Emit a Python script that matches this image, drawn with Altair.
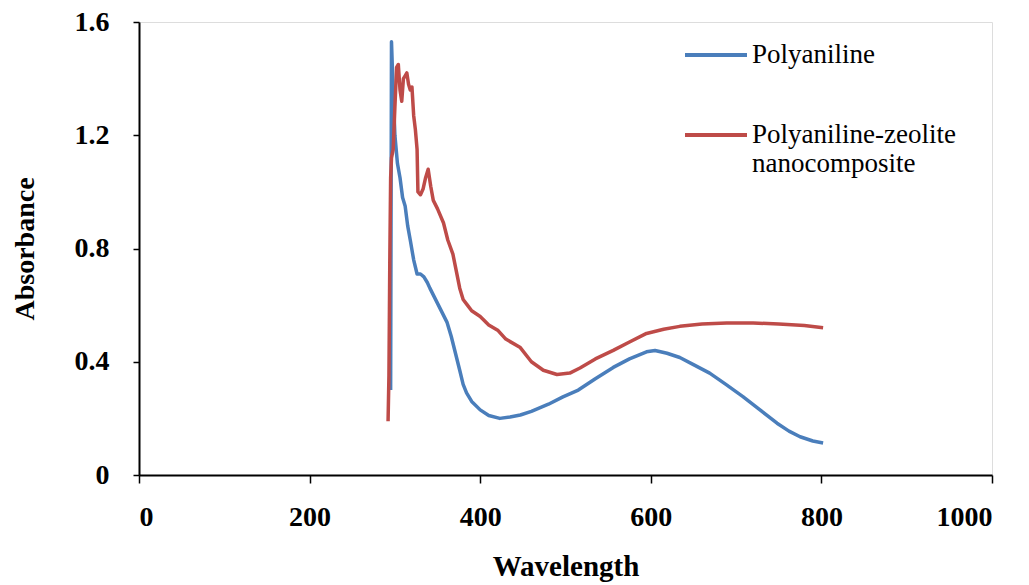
import altair as alt
import pandas as pd

series_names = ["Polyaniline", "Polyaniline-zeolite nanocomposite"]
series_colors = ["#4a7ebb", "#be4b48"]

pani_wl = [295, 296, 298, 300, 303, 306, 309, 312, 315, 318, 322, 326, 330, 334, 338, 341,
           346, 351, 356, 361, 366, 371, 376, 380, 384, 390, 400, 410, 423, 435, 447, 460,
           480, 497, 515, 535, 556, 575, 595, 605, 619, 634, 650, 669, 688, 708, 728, 748,
           762, 775, 790, 802]
pani_abs = [0.30, 1.53, 1.35, 1.20, 1.10, 1.05, 0.98, 0.95, 0.88, 0.83, 0.76, 0.71, 0.71, 0.70, 0.68, 0.66,
            0.63, 0.60, 0.57, 0.54, 0.49, 0.43, 0.37, 0.32, 0.29, 0.26, 0.23, 0.21, 0.20, 0.205, 0.212, 0.225,
            0.25, 0.276, 0.30, 0.34, 0.38, 0.41, 0.435, 0.44, 0.43, 0.415, 0.39, 0.36, 0.32, 0.277, 0.23, 0.183,
            0.155, 0.135, 0.12, 0.113]

comp_wl = [292, 293, 294, 295, 296, 298, 300, 302, 304, 306, 308, 310, 312, 314, 316, 318,
           320, 322, 324, 326, 327, 330, 333, 336, 339, 342, 345, 350, 357, 362, 368, 372,
           376, 380, 385, 390, 400, 410, 421, 430, 447, 460, 474, 490, 505, 517, 535, 556,
           575, 595, 615, 634, 660, 689, 720, 750, 780, 802]
comp_abs = [0.19, 0.35, 0.75, 1.05, 1.12, 1.15, 1.30, 1.44, 1.45, 1.36, 1.32, 1.40, 1.41, 1.42, 1.38, 1.36,
            1.37, 1.27, 1.22, 1.15, 1.00, 0.99, 1.01, 1.05, 1.08, 1.02, 0.97, 0.94, 0.89, 0.83, 0.78, 0.72,
            0.66, 0.62, 0.60, 0.58, 0.56, 0.53, 0.51, 0.48, 0.45, 0.40, 0.37, 0.355, 0.36, 0.378, 0.41, 0.44,
            0.47, 0.50, 0.515, 0.525, 0.533, 0.537, 0.537, 0.533, 0.528, 0.52]

x_ticks = [0, 200, 400, 600, 800, 1000]
y_ticks = [0, 0.4, 0.8, 1.2, 1.6]

rows = []
for i, (w, a) in enumerate(zip(pani_wl, pani_abs)):
    rows.append({"Wavelength": w, "Absorbance": a, "Series": series_names[0], "idx": i})
for i, (w, a) in enumerate(zip(comp_wl, comp_abs)):
    rows.append({"Wavelength": w, "Absorbance": a, "Series": series_names[1], "idx": i})
df = pd.DataFrame(rows)

FONT = "Liberation Serif"

chart = alt.Chart(df).mark_line(strokeWidth=3.5, strokeJoin="round").encode(
    x=alt.X("Wavelength:Q",
            scale=alt.Scale(domain=[0, 1000], nice=False, zero=False),
            axis=alt.Axis(values=x_ticks, format="d", title="Wavelength", grid=False,
                          tickSize=8, tickColor="black", tickWidth=1.5,
                          domainColor="black", domainWidth=2,
                          labelFont=FONT, labelFontWeight="bold", labelFontSize=28,
                          labelColor="black", labelPadding=20,
                          titleFont=FONT, titleFontWeight="bold", titleFontSize=29,
                          titleColor="black", titlePadding=21)),
    y=alt.Y("Absorbance:Q",
            scale=alt.Scale(domain=[0, 1.6], nice=False),
            axis=alt.Axis(values=y_ticks, title="Absorbance", grid=False,
                          labelExpr="datum.value == 0 ? '0' : format(datum.value, '.1f')",
                          tickSize=6, tickColor="black", tickWidth=1.5,
                          domainColor="black", domainWidth=2,
                          labelFont=FONT, labelFontWeight="bold", labelFontSize=28,
                          labelColor="black", labelPadding=24,
                          titleFont=FONT, titleFontWeight="bold", titleFontSize=28,
                          titleColor="black", titlePadding=35)),
    color=alt.Color("Series:N",
                    scale=alt.Scale(domain=series_names, range=series_colors),
                    legend=alt.Legend(title=None, orient="none", legendX=544, legendY=0,
                                      symbolType="stroke", symbolSize=3844,
                                      symbolStrokeWidth=4, padding=0,
                                      labelFont=FONT, labelFontSize=27, labelColor="black",
                                      labelLimit=1000, labelOffset=3, rowPadding=34,
                                      labelExpr="datum.label == 'Polyaniline' ? 'Polyaniline' : ['Polyaniline-zeolite', 'nanocomposite']")),
    order="idx:Q",
).properties(
    width=853, height=453,
    autosize=alt.AutoSizeParams(type="none"),
    padding={"left": 139, "top": 22, "right": 37, "bottom": 110},
).configure_view(
    stroke="black", strokeWidth=2
).configure(background="white")

chart.save("out.html", embed_options={"renderer": "svg", "actions": False})
